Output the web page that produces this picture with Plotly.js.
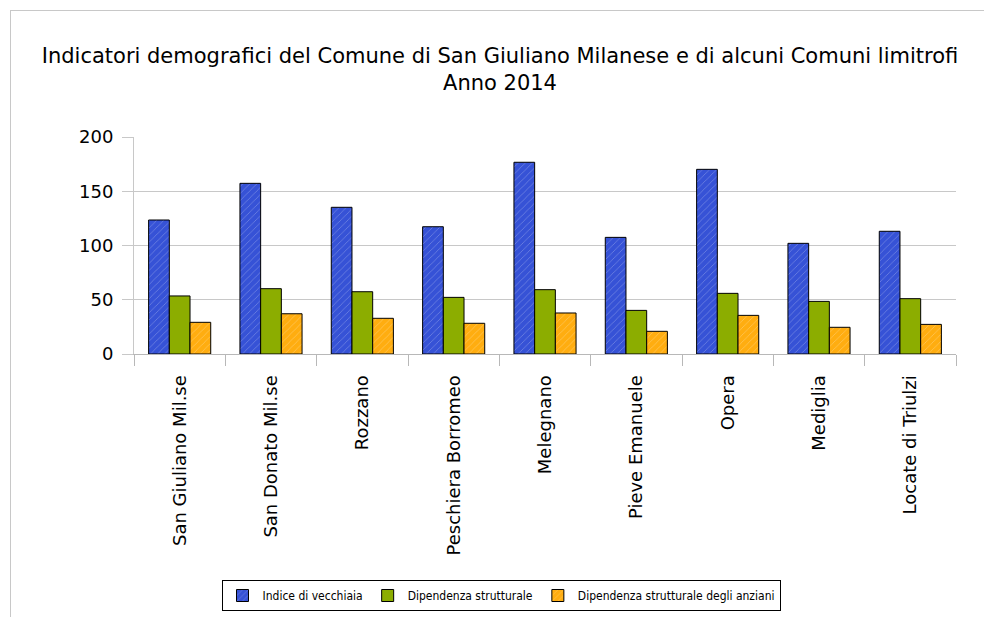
<!DOCTYPE html>
<html>
<head>
<meta charset="utf-8">
<script src="https://cdn.plot.ly/plotly-3.0.1.min.js"></script>
<style>
  html, body { margin: 0; padding: 0; background: #fff; }
  #wrap { position: relative; width: 984px; height: 617px; }
  #chart { width: 984px; height: 617px; }
  #frame {
    position: absolute; left: 10px; top: 10px; right: 0; bottom: 0;
    border-left: 1px solid #c8c8c8; border-top: 1px solid #c8c8c8;
    pointer-events: none;
  }
</style>
</head>
<body>
<div id="wrap">
  <div id="chart"></div>
  <div id="frame"></div>
</div>
<script>
// Comuni (categories)
const comuni = [
  'San Giuliano Mil.se', 'San Donato Mil.se', 'Rozzano', 'Peschiera Borromeo',
  'Melegnano', 'Pieve Emanuele', 'Opera', 'Mediglia', 'Locate di Triulzi'
];

// values
const indiceVecchiaia = [123.5, 157.3, 135.2, 117.3, 176.7, 107.5, 170.2, 102.0, 113.1];
const dipStrutturale  = [53.5, 60.2, 57.4, 52.2, 59.3, 40.2, 55.9, 48.5, 51.0];
const dipAnziani      = [29.2, 37.1, 32.9, 28.3, 37.8, 20.9, 35.6, 24.6, 27.3];

const seriesNames = [
  'Indice di vecchiaia',
  'Dipendenza strutturale',
  'Dipendenza strutturale degli anziani'
];

const FONT = 'DejaVu Sans, Verdana, sans-serif';
const FONT_COND = 'DejaVu Sans Condensed, DejaVu Sans, sans-serif';

function barTrace(name, values, color, hatched) {
  const marker = { color: color, line: { color: '#000', width: 1 } };
  if (hatched) {
    // fine diagonal hatch like the office-suite fill
    marker.pattern = { shape: '/', bgcolor: color, fgcolor: '#ffffff', fgopacity: 0.3, size: 5, solidity: 0.15 };
  }
  return { type: 'bar', name: name, x: comuni, y: values, marker: marker, hoverinfo: 'x+y+name' };
}

const data = [
  barTrace(seriesNames[0], indiceVecchiaia, '#3652d6', true),
  barTrace(seriesNames[1], dipStrutturale, '#8cad00', false),
  barTrace(seriesNames[2], dipAnziani, '#ffad10', true),
];

const layout = {
  width: 984,
  height: 617,
  paper_bgcolor: '#fff',
  plot_bgcolor: '#fff',
  font: { family: FONT, color: '#000', size: 18 },
  margin: { l: 134, r: 28, t: 137, b: 263 },
  barmode: 'group',
  bargap: 0.32,
  bargroupgap: 0,
  title: {
    text: 'Indicatori demografici del Comune di San Giuliano Milanese e di alcuni Comuni limitrofi<br>Anno 2014',
    font: { family: FONT, size: 21, color: '#000' },
    xref: 'container', x: 500 / 984, xanchor: 'center',
    yref: 'container', y: 1 - 63 / 617, yanchor: 'top'
  },
  xaxis: {
    type: 'category',
    tickangle: -90,
    tickson: 'boundaries',
    ticks: 'outside',
    ticklen: 11,
    tickcolor: '#b8b8b8',
    showgrid: false,
    showline: true,
    linecolor: '#b8b8b8',
    tickfont: { family: FONT, size: 18, color: '#000' },
    ticklabelstandoff: 13
  },
  yaxis: {
    range: [0, 200],
    dtick: 50,
    ticks: 'outside',
    ticklen: 11,
    tickcolor: '#c8c8c8',
    showgrid: true,
    gridcolor: '#c8c8c8',
    showline: true,
    linecolor: '#c8c8c8',
    zeroline: false,
    tickfont: { family: FONT, size: 18, color: '#000' },
    ticklabelstandoff: 5
  },
  legend: {
    orientation: 'h',
    xref: 'container', x: 501 / 984, xanchor: 'center',
    yref: 'container', y: 1 - 611 / 617, yanchor: 'bottom',
    bordercolor: '#000',
    borderwidth: 1,
    bgcolor: '#fff',
    font: { family: FONT_COND, size: 12, color: '#000' },
    itemwidth: 30,
    tracegroupgap: 0,
    traceorder: 'normal'
  },
  showlegend: true
};

Plotly.newPlot('chart', data, layout, { displayModeBar: false, responsive: false });
</script>
</body>
</html>
